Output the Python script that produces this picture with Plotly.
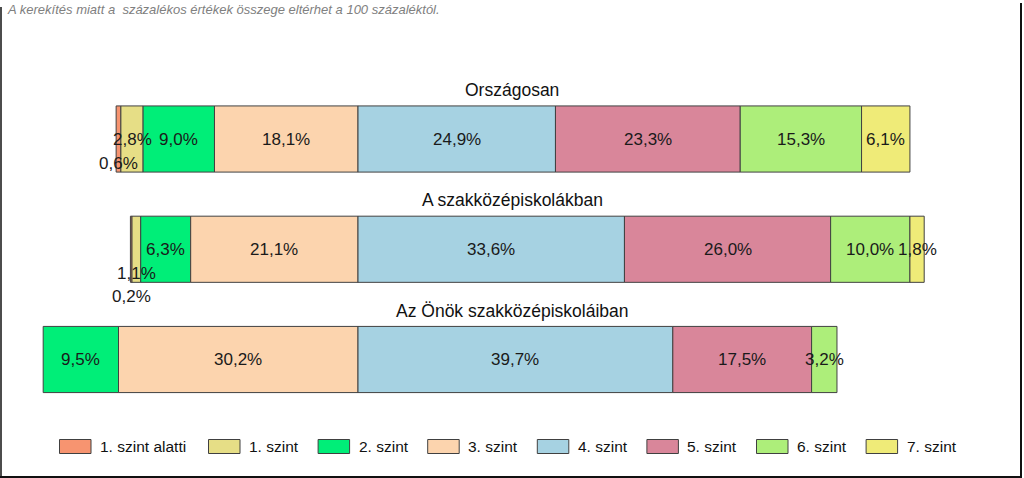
import numpy as np
import plotly.graph_objects as go

# ---------------- data ----------------
groups = ["Országosan", "A szakközépiskolákban", "Az Önök szakközépiskoláiban"]
levels = ["1. szint alatti", "1. szint", "2. szint", "3. szint",
          "4. szint", "5. szint", "6. szint", "7. szint"]
orszagos = [0.6, 2.8, 9.0, 18.1, 24.9, 23.3, 15.3, 6.1]
szakkozep = [0.2, 1.1, 6.3, 21.1, 33.6, 26.0, 10.0, 1.8]
onok = [0.0, 0.0, 9.5, 30.2, 39.7, 17.5, 3.2, 0.0]
footnote = "A kerekítés miatt a  százalékos értékek összege eltérhet a 100 százaléktól."

# ---------------- style ----------------
colors = ["#F79470", "#E6DE86", "#00EE78", "#FCD4AE",
          "#A6D2E2", "#D9869A", "#ADEE7A", "#EFEB78"]
FONT = "Arial, Liberation Sans, sans-serif"
W, H = 1024, 478
SPLIT = 4  # bars diverge between "3. szint" and "4. szint"
# label vertical shifts (px) for crowded tiny segments: (row, level) -> shift
label_shift = {(0, 0): -24, (1, 1): -24, (1, 0): -47}

data = np.array([orszagos, szakkozep, onok])
nrows = data.shape[0]
rows = np.arange(nrows)
offset = -data[:, :SPLIT].sum(axis=1)
bases = offset[:, None] + np.hstack([np.zeros((nrows, 1)), np.cumsum(data, axis=1)[:, :-1]])

fig = go.Figure()
for k, lev in enumerate(levels):
    vals = [v if v > 0 else None for v in data[:, k]]
    fig.add_trace(go.Bar(
        y=rows, x=vals, base=bases[:, k], orientation="h", name=lev,
        marker=dict(color=colors[k], line=dict(color="#404040", width=1)),
        width=0.6, showlegend=False, hoverinfo="skip",
    ))

annotations = []
# value labels
for r in range(nrows):
    for k in range(len(levels)):
        v = data[r, k]
        if v <= 0:
            continue
        annotations.append(dict(
            x=bases[r, k] + v / 2, y=r, xref="x", yref="y",
            text=f"{v:.1f}".replace(".", ",") + "%", showarrow=False,
            font=dict(family=FONT, size=17, color="#1a1a1a"),
            yshift=label_shift.get((r, k), 0),
        ))
# group titles
for r, g in enumerate(groups):
    annotations.append(dict(
        x=0.5, y=r, xref="paper", yref="y", text=g, showarrow=False,
        font=dict(family=FONT, size=17.5, color="#111111"), yshift=49,
    ))
# footnote
annotations.append(dict(
    x=5 / W, y=1 - 9 / H, xref="paper", yref="paper", xanchor="left", yanchor="middle",
    text="<i>" + footnote + "</i>", showarrow=False,
    font=dict(family=FONT, size=13, color="#808080"),
))

shapes = []
# custom legend (wide swatches)
leg_y = 446.5
sw_w, sw_h = 31.5, 14
for k, lev in enumerate(levels):
    x0 = 59.5 if k == 0 else 208.5 + 109.6 * (k - 1)
    shapes.append(dict(
        type="rect", xref="paper", yref="paper",
        x0=x0 / W, x1=(x0 + sw_w) / W,
        y0=1 - (leg_y - sw_h / 2) / H, y1=1 - (leg_y + sw_h / 2) / H,
        fillcolor=colors[k], line=dict(color="#404040", width=1),
    ))
    annotations.append(dict(
        x=(x0 + 38.5) / W, y=1 - leg_y / H, xref="paper", yref="paper",
        xanchor="left", yanchor="middle", text=lev, showarrow=False,
        font=dict(family=FONT, size=15.5, color="#111111"),
    ))
# outer frame (left, right, bottom edges)
frame = [((1, 7), (1, 477), 1.5), ((1021, 3), (1021, 477), 2), ((0, 477), (1022, 477), 2)]
for (xa, ya), (xb, yb), lw in frame:
    shapes.append(dict(
        type="line", xref="paper", yref="paper",
        x0=xa / W, y0=1 - ya / H, x1=xb / W, y1=1 - yb / H,
        line=dict(color="#111111", width=lw),
    ))

px_per_unit = 7.93
center_px = 358
row0_px, row_step = 139, 110.25
fig.update_layout(
    width=W, height=H, margin=dict(l=0, r=0, t=0, b=0),
    paper_bgcolor="white", plot_bgcolor="white",
    barmode="overlay",
    xaxis=dict(range=[-center_px / px_per_unit, (W - center_px) / px_per_unit],
               showgrid=False, zeroline=False, showticklabels=False, fixedrange=True),
    yaxis=dict(range=[(H - row0_px) / row_step, -row0_px / row_step],
               showgrid=False, zeroline=False, showticklabels=False, fixedrange=True),
    annotations=annotations, shapes=shapes,
)

fig.write_html(
    "out.html",
    config={"displayModeBar": False},
    post_script="document.body.style.margin='0';document.body.style.overflow='hidden';",
)
